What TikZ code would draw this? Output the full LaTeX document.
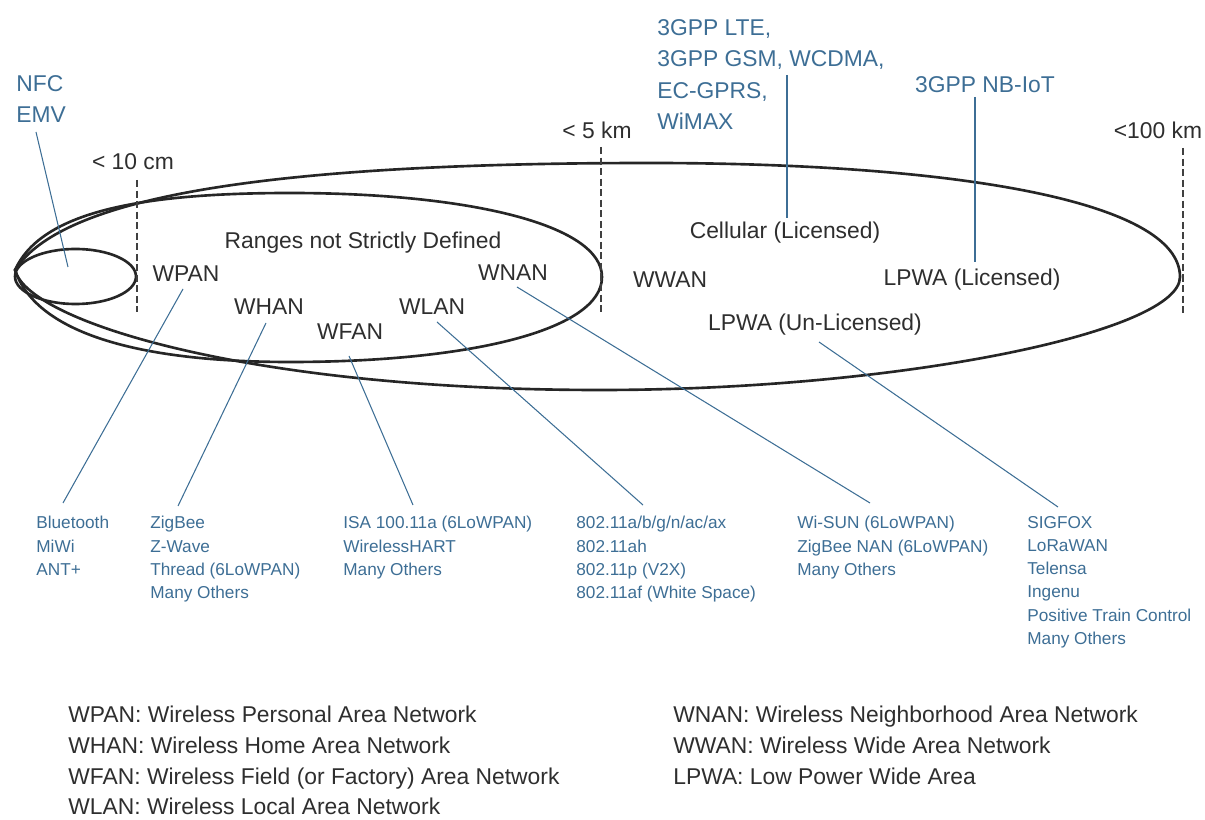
\documentclass[tikz,border=0pt]{standalone}
\usepackage{fontspec}
\setmainfont{Liberation Sans}
\definecolor{lblue}{HTML}{3D6E95}
\definecolor{dgray}{HTML}{2E2E2E}
\begin{document}
\begin{tikzpicture}[x=0.02cm,y=-0.02cm,
  big/.style={font=\fontsize{13}{17.9}\selectfont, inner sep=0pt},
  lab/.style={big, text=dgray},
  blab/.style={big, text=lblue, align=left, anchor=north west},
  listtxt/.style={font=\fontsize{9.8}{13.2}\selectfont, inner sep=0pt, text=lblue, align=left, anchor=north west},
  legtxt/.style={font=\fontsize{13}{17.4}\selectfont, inner sep=0pt, text=dgray, align=left, anchor=north west},
  eggline/.style={line width=1.5pt, draw=black!85},
  lead/.style={draw=lblue, line width=0.6pt},
  rangeline/.style={dash pattern=on 4pt off 2pt, line width=0.6pt, draw=black!75}]
\useasboundingbox (0,0) rectangle (1205,820);

% outer (WWAN) shape
\draw[eggline] (15,270) .. controls (60,200) and (250,163) .. (650,163)
  .. controls (950,163) and (1180,200) .. (1180,277)
  .. controls (1180,332) and (900,390) .. (600,390)
  .. controls (250,390) and (28,322) .. (15,270) -- cycle;
% medium shape
\draw[eggline] (15,270) .. controls (40,215) and (130,193) .. (290,193)
  .. controls (470,193) and (602,225) .. (602,277)
  .. controls (602,330) and (470,362) .. (290,362)
  .. controls (130,362) and (35,330) .. (15,270) -- cycle;
% small (NFC) ellipse
\draw[eggline] (75.5,276.5) ellipse [x radius=60.5, y radius=27.5];

% range markers
\coordinate (r1t) at (137,180); \coordinate (r1b) at (137,312);
\coordinate (r2t) at (601,147); \coordinate (r2b) at (601,312);
\coordinate (r3t) at (1183,148); \coordinate (r3b) at (1183,313);
\draw[rangeline] (r1t) -- (r1b);
\draw[rangeline] (r2t) -- (r2b);
\draw[rangeline] (r3t) -- (r3b);
\node[lab] (d10cm) at (133,162) {< 10 cm};
\node[lab] (d5km) at (597,130) {< 5 km};
\node[lab] (d100km) at (1158,130) {<100 km};

% labels in shapes
\node[lab] (ranges) at (363,243) {Ranges not Strictly Defined};
\node[lab] (wpan) at (186,274) {WPAN};
\node[lab] (whan) at (269,307) {WHAN};
\node[lab] (wfan) at (350,332) {WFAN};
\node[lab] (wlan) at (432,307) {WLAN};
\node[lab] (wnan) at (513,273) {WNAN};
\node[lab] (cell) at (785,233) {Cellular (Licensed)};
\node[lab] (wwan) at (670,280) {WWAN};
\node[lab] (lpwal) at (972,280) {LPWA (Licensed)};
\node[lab] (lpwau) at (815,325) {LPWA (Un-Licensed)};

% top blue labels
\node[blab] (nfc) at (16,75) {NFC\\EMV};
\node[blab] (cellt) at (657,19) {3GPP LTE,\\3GPP GSM, WCDMA,\\EC-GPRS,\\WiMAX};
\node[big, text=lblue] (nbiot) at (985,85) {3GPP NB-IoT};

% bottom lists
\node[listtxt] (l1) at (36,516) {Bluetooth\\MiWi\\ANT+};
\node[listtxt] (l2) at (150,516) {ZigBee\\Z-Wave\\Thread (6LoWPAN)\\Many Others};
\node[listtxt] (l3) at (343,516) {ISA 100.11a (6LoWPAN)\\WirelessHART\\Many Others};
\node[listtxt] (l4) at (576,516) {802.11a/b/g/n/ac/ax\\802.11ah\\802.11p (V2X)\\802.11af (White Space)};
\node[listtxt] (l5) at (797,516) {Wi-SUN (6LoWPAN)\\ZigBee NAN (6LoWPAN)\\Many Others};
\node[listtxt] (l6) at (1027,516) {SIGFOX\\LoRaWAN\\Telensa\\Ingenu\\Positive Train Control\\Many Others};

% leader line ends
\coordinate (emvE) at (36,132);   \coordinate (nfcIn) at (68,267);
\coordinate (celltE) at (787,75); \coordinate (cellE) at (787,218);
\coordinate (nbE) at (975,97);    \coordinate (lpwalE) at (975,262);
\coordinate (wpanE) at (183,289); \coordinate (l1E) at (63,503);
\coordinate (whanE) at (266,323); \coordinate (l2E) at (178,506);
\coordinate (wfanE) at (349,356); \coordinate (l3E) at (413,505);
\coordinate (wlanE) at (437,322); \coordinate (l4E) at (643,505);
\coordinate (wnanE) at (517,287); \coordinate (l5E) at (870,503);
\coordinate (lpwauE) at (819,342); \coordinate (l6E) at (1058,507);
\draw[lead] (emvE) -- (nfcIn);
\draw[lead] (celltE) -- (cellE);
\draw[lead] (nbE) -- (lpwalE);
\draw[lead] (wpanE) -- (l1E);
\draw[lead] (whanE) -- (l2E);
\draw[lead] (wfanE) -- (l3E);
\draw[lead] (wlanE) -- (l4E);
\draw[lead] (wnanE) -- (l5E);
\draw[lead] (lpwauE) -- (l6E);

% legend
\node[legtxt] (legL) at (68,706) {WPAN: Wireless Personal Area Network\\WHAN: Wireless Home Area Network\\WFAN: Wireless Field (or Factory) Area Network\\WLAN: Wireless Local Area Network};
\node[legtxt] (legR) at (673,706) {WNAN: Wireless Neighborhood Area Network\\WWAN: Wireless Wide Area Network\\LPWA: Low Power Wide Area};
\end{tikzpicture}
\end{document}
